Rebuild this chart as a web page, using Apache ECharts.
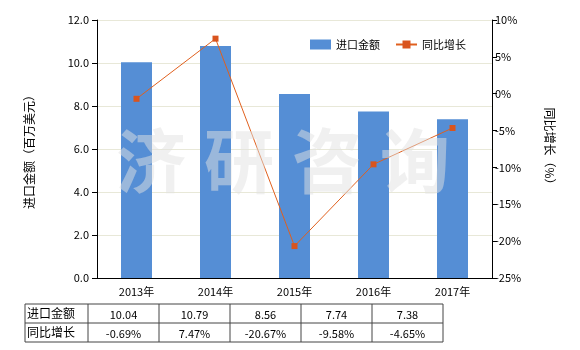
<!DOCTYPE html>
<html><head><meta charset="utf-8">
<script src="https://cdn.jsdelivr.net/npm/echarts@6/dist/echarts.min.js"></script>
<style>html,body{margin:0;padding:0;background:#fff}#c{width:580px;height:350px}</style>
</head><body><div id="c"></div>
<script>
const categories = ['2013年','2014年','2015年','2016年','2017年'];
const amounts = [10.04, 10.79, 8.56, 7.74, 7.38];
const growth = [-0.69, 7.47, -20.67, -9.58, -4.65];
const seriesNames = ['进口金额','同比增长'];
const amountLabels = ['10.04','10.79','8.56','7.74','7.38'];
const growthLabels = ['-0.69%','7.47%','-20.67%','-9.58%','-4.65%'];
const watermark = ['济','研','咨','询'];

const font = '"Noto Sans CJK SC", "DejaVu Sans", sans-serif';
const chart = echarts.init(document.getElementById('c'), null, {renderer:'canvas'});

const graphic = [];
// watermark
watermark.forEach((ch,i)=>{
  graphic.push({type:'text', left:116+i*88, top:126, z:100, silent:true,
    style:{text:ch, font:'bold 70px '+font, fill:'rgba(225,225,225,0.5)'}});
});
// table
const tx0 = 25, labW = 63, colW = 71, ty0 = 304, rowH = 19;
const tw = labW + colW*categories.length;
const rows = [[seriesNames[0], amountLabels],[seriesNames[1], growthLabels]];
graphic.push({type:'rect', shape:{x:tx0, y:ty0, width:tw, height:rowH*2}, style:{fill:'none', stroke:'#444', lineWidth:1}});
graphic.push({type:'line', shape:{x1:tx0, y1:ty0+rowH, x2:tx0+tw, y2:ty0+rowH}, style:{stroke:'#444', lineWidth:1}});
for(let i=0;i<categories.length;i++){
  const x = tx0+labW+colW*i;
  graphic.push({type:'line', shape:{x1:x, y1:ty0, x2:x, y2:ty0+rowH*2}, style:{stroke:'#444', lineWidth:1}});
}
rows.forEach((r,ri)=>{
  graphic.push({type:'text', x:tx0+2, y:ty0+rowH*ri+rowH/2, style:{text:r[0], font:'12px '+font, fill:'#000', textVerticalAlign:'middle', verticalAlign:'middle'}});
  r[1].forEach((v,ci)=>{
    graphic.push({type:'text', x:tx0+labW+colW*ci+colW/2, y:ty0+rowH*ri+rowH/2+1, style:{text:v, font:'11px '+font, fill:'#000', textAlign:'center', align:'center', textVerticalAlign:'middle', verticalAlign:'middle'}});
  });
});

chart.setOption({
  animation:false,
  textStyle:{fontFamily:font},
  grid:{left:97, right:88, top:20, bottom:72},
  legend:{left:305, top:34, itemWidth:21, itemHeight:10, itemGap:15,
    textStyle:{fontSize:11, color:'#000', fontFamily:font},
    data:[{name:seriesNames[0], icon:'rect'}, {name:seriesNames[1]}]},
  xAxis:{type:'category', data:categories,
    axisLine:{lineStyle:{color:'#000'}}, axisTick:{show:false},
    axisLabel:{color:'#000', fontSize:11, margin:8}},
  yAxis:[
    {type:'value', min:0, max:12, interval:2, name:'进口金额（百万美元）', nameLocation:'middle', nameGap:62,
     nameTextStyle:{color:'#000', fontSize:12},
     axisLine:{show:true, lineStyle:{color:'#000'}}, axisTick:{show:true, length:5, lineStyle:{color:'#000'}},
     axisLabel:{color:'#000', fontSize:11, formatter:v=>v.toFixed(1)},
     splitLine:{lineStyle:{color:'#e8e8d8'}}},
    {type:'value', min:-25, max:10, interval:5, name:'同比增长（%）', nameLocation:'middle', nameGap:52, nameRotate:-90,
     nameTextStyle:{color:'#000', fontSize:12},
     axisLine:{show:true, lineStyle:{color:'#000'}}, axisTick:{show:true, length:5, lineStyle:{color:'#000'}},
     axisLabel:{color:'#000', fontSize:11, margin:3, formatter:v=>v+'%'},
     splitLine:{show:false}}
  ],
  series:[
    {name:seriesNames[0], type:'bar', data:amounts, barWidth:31, itemStyle:{color:'#558ed5'}},
    {name:seriesNames[1], type:'line', yAxisIndex:1, data:growth, symbol:'rect', symbolSize:6,
     itemStyle:{color:'#d9541e'}, lineStyle:{color:'#e0601e', width:1}}
  ],
  graphic:graphic
});
</script></body></html>
